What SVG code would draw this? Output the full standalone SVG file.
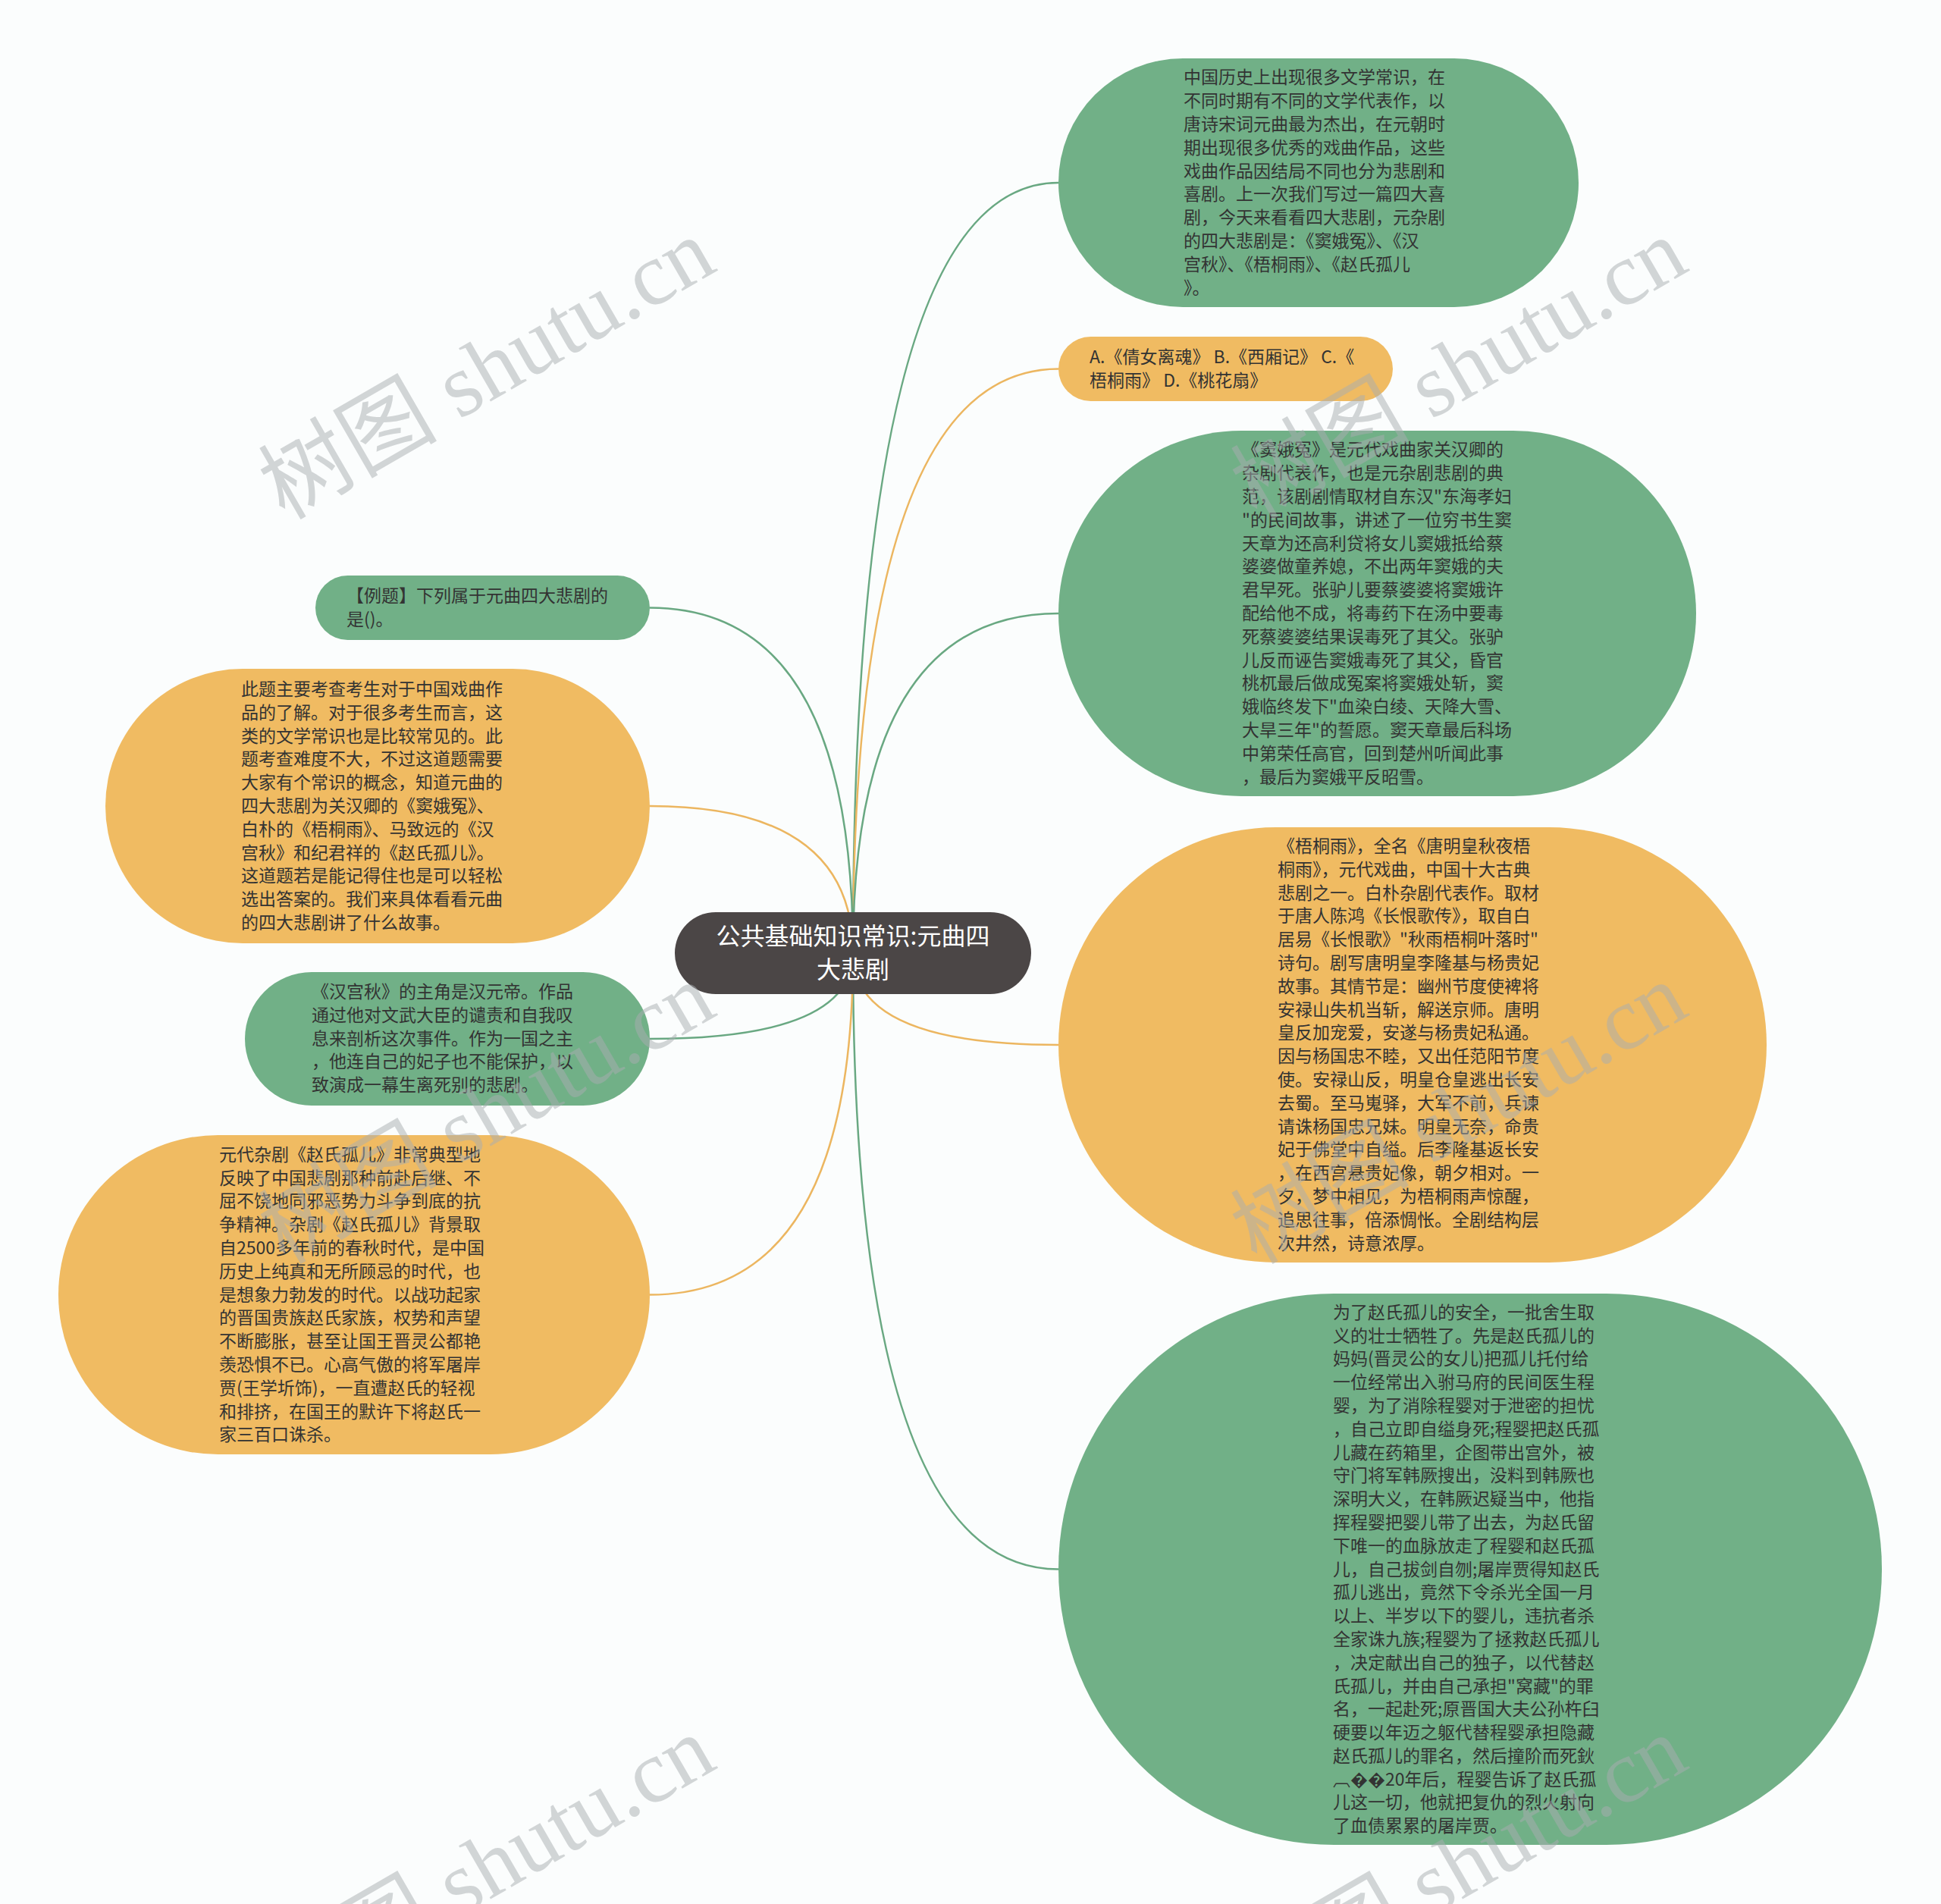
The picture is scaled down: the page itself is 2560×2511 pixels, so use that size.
<svg xmlns="http://www.w3.org/2000/svg" width="2560" height="2511" viewBox="0 0 2560 2511">
<style>
.bg{fill:#fbfdfd}
.g{fill:#71b087}
.o{fill:#f0bb62}
.c{fill:#4b4646}
.t{font-family:'Noto Sans CJK SC','Noto Sans',sans-serif;font-size:23px;fill:#333333}
.ct{font-family:'Noto Sans CJK SC','Noto Sans',sans-serif;font-size:32px;fill:#ffffff;text-anchor:middle}
.cl{fill:none;stroke-width:2.5}
.lg{stroke:#69a882}
.lo{stroke:#ecb660}
.wm{font-family:'Liberation Serif','Noto Sans CJK SC',serif;font-size:118px;fill:#a9aeb1;opacity:.5;text-anchor:middle}
</style>
<rect class="bg" x="0" y="0" width="2560" height="2511"/>
<g id="connectors">
<path class="cl lg" d="M1125 1257 Q1125 241 1396 241"/>
<path class="cl lo" d="M1125 1257 Q1125 486.5 1396 486.5"/>
<path class="cl lg" d="M1125 1257 Q1125 809 1396 809"/>
<path class="cl lo" d="M1125 1257 Q1125 1378 1396 1378"/>
<path class="cl lg" d="M1125 1257 Q1125 2069.5 1396 2069.5"/>
<path class="cl lg" d="M1125 1257 Q1125 801.5 857 801.5"/>
<path class="cl lo" d="M1125 1257 Q1125 1063 857 1063"/>
<path class="cl lg" d="M1125 1257 Q1125 1370 857 1370"/>
<path class="cl lo" d="M1125 1257 Q1125 1707.5 857 1707.5"/>
</g>
<g id="center">
<rect class="c" x="890" y="1203" width="470" height="108" rx="54"/>
<text class="ct"><tspan x="1125" y="1246">公共基础知识常识:元曲四</tspan><tspan x="1125" y="1290">大悲剧</tspan></text>
</g>
<g id="n1">
<rect class="g" x="1396" y="77" width="686" height="328" rx="164"/>
<text class="t" y="110.4"><tspan x="1561">中国历史上出现很多文学常识，在</tspan><tspan x="1561" dy="30.8">不同时期有不同的文学代表作，以</tspan><tspan x="1561" dy="30.8">唐诗宋词元曲最为杰出，在元朝时</tspan><tspan x="1561" dy="30.8">期出现很多优秀的戏曲作品，这些</tspan><tspan x="1561" dy="30.8">戏曲作品因结局不同也分为悲剧和</tspan><tspan x="1561" dy="30.8">喜剧。上一次我们写过一篇四大喜</tspan><tspan x="1561" dy="30.8">剧，今天来看看四大悲剧，元杂剧</tspan><tspan x="1561" dy="30.8">的四大悲剧是：《窦娥冤》、《汉</tspan><tspan x="1561" dy="30.8">宫秋》、《梧桐雨》、《赵氏孤儿</tspan><tspan x="1561" dy="30.8">》。</tspan></text>
</g>
<g id="n2">
<rect class="o" x="1396" y="444" width="441" height="85" rx="42.5"/>
<text class="t" y="479"><tspan x="1437">A.《倩女离魂》 B.《西厢记》 C.《</tspan><tspan x="1437" dy="30.8">梧桐雨》 D.《桃花扇》</tspan></text>
</g>
<g id="n3">
<rect class="g" x="1396" y="568" width="841" height="482" rx="241"/>
<text class="t" y="601.4"><tspan x="1638">《窦娥冤》是元代戏曲家关汉卿的</tspan><tspan x="1638" dy="30.8">杂剧代表作，也是元杂剧悲剧的典</tspan><tspan x="1638" dy="30.8">范，该剧剧情取材自东汉"东海孝妇</tspan><tspan x="1638" dy="30.8">"的民间故事，讲述了一位穷书生窦</tspan><tspan x="1638" dy="30.8">天章为还高利贷将女儿窦娥抵给蔡</tspan><tspan x="1638" dy="30.8">婆婆做童养媳，不出两年窦娥的夫</tspan><tspan x="1638" dy="30.8">君早死。张驴儿要蔡婆婆将窦娥许</tspan><tspan x="1638" dy="30.8">配给他不成，将毒药下在汤中要毒</tspan><tspan x="1638" dy="30.8">死蔡婆婆结果误毒死了其父。张驴</tspan><tspan x="1638" dy="30.8">儿反而诬告窦娥毒死了其父，昏官</tspan><tspan x="1638" dy="30.8">桃杌最后做成冤案将窦娥处斩，窦</tspan><tspan x="1638" dy="30.8">娥临终发下"血染白绫、天降大雪、</tspan><tspan x="1638" dy="30.8">大旱三年"的誓愿。窦天章最后科场</tspan><tspan x="1638" dy="30.8">中第荣任高官，回到楚州听闻此事</tspan><tspan x="1638" dy="30.8">，最后为窦娥平反昭雪。</tspan></text>
</g>
<g id="n4">
<rect class="o" x="1396" y="1091" width="934" height="574" rx="287"/>
<text class="t" y="1124"><tspan x="1685">《梧桐雨》，全名《唐明皇秋夜梧</tspan><tspan x="1685" dy="30.8">桐雨》，元代戏曲，中国十大古典</tspan><tspan x="1685" dy="30.8">悲剧之一。白朴杂剧代表作。取材</tspan><tspan x="1685" dy="30.8">于唐人陈鸿《长恨歌传》，取自白</tspan><tspan x="1685" dy="30.8">居易《长恨歌》"秋雨梧桐叶落时"</tspan><tspan x="1685" dy="30.8">诗句。剧写唐明皇李隆基与杨贵妃</tspan><tspan x="1685" dy="30.8">故事。其情节是：幽州节度使裨将</tspan><tspan x="1685" dy="30.8">安禄山失机当斩，解送京师。唐明</tspan><tspan x="1685" dy="30.8">皇反加宠爱，安遂与杨贵妃私通。</tspan><tspan x="1685" dy="30.8">因与杨国忠不睦，又出任范阳节度</tspan><tspan x="1685" dy="30.8">使。安禄山反，明皇仓皇逃出长安</tspan><tspan x="1685" dy="30.8">去蜀。至马嵬驿，大军不前，兵谏</tspan><tspan x="1685" dy="30.8">请诛杨国忠兄妹。明皇无奈，命贵</tspan><tspan x="1685" dy="30.8">妃于佛堂中自缢。后李隆基返长安</tspan><tspan x="1685" dy="30.8">，在西宫悬贵妃像，朝夕相对。一</tspan><tspan x="1685" dy="30.8">夕，梦中相见，为梧桐雨声惊醒，</tspan><tspan x="1685" dy="30.8">追思往事，倍添惆怅。全剧结构层</tspan><tspan x="1685" dy="30.8">次井然，诗意浓厚。</tspan></text>
</g>
<g id="n5">
<rect class="g" x="1396" y="1706" width="1086" height="727" rx="363.5"/>
<text class="t" y="1738.7"><tspan x="1758">为了赵氏孤儿的安全，一批舍生取</tspan><tspan x="1758" dy="30.8">义的壮士牺牲了。先是赵氏孤儿的</tspan><tspan x="1758" dy="30.8">妈妈(晋灵公的女儿)把孤儿托付给</tspan><tspan x="1758" dy="30.8">一位经常出入驸马府的民间医生程</tspan><tspan x="1758" dy="30.8">婴，为了消除程婴对于泄密的担忧</tspan><tspan x="1758" dy="30.8">，自己立即自缢身死;程婴把赵氏孤</tspan><tspan x="1758" dy="30.8">儿藏在药箱里，企图带出宫外，被</tspan><tspan x="1758" dy="30.8">守门将军韩厥搜出，没料到韩厥也</tspan><tspan x="1758" dy="30.8">深明大义，在韩厥迟疑当中，他指</tspan><tspan x="1758" dy="30.8">挥程婴把婴儿带了出去，为赵氏留</tspan><tspan x="1758" dy="30.8">下唯一的血脉放走了程婴和赵氏孤</tspan><tspan x="1758" dy="30.8">儿，自己拔剑自刎;屠岸贾得知赵氏</tspan><tspan x="1758" dy="30.8">孤儿逃出，竟然下令杀光全国一月</tspan><tspan x="1758" dy="30.8">以上、半岁以下的婴儿，违抗者杀</tspan><tspan x="1758" dy="30.8">全家诛九族;程婴为了拯救赵氏孤儿</tspan><tspan x="1758" dy="30.8">，决定献出自己的独子，以代替赵</tspan><tspan x="1758" dy="30.8">氏孤儿，并由自己承担"窝藏"的罪</tspan><tspan x="1758" dy="30.8">名，一起赴死;原晋国大夫公孙杵臼</tspan><tspan x="1758" dy="30.8">硬要以年迈之躯代替程婴承担隐藏</tspan><tspan x="1758" dy="30.8">赵氏孤儿的罪名，然后撞阶而死鈥</tspan><tspan x="1758" dy="30.8">︹��20年后，程婴告诉了赵氏孤</tspan><tspan x="1758" dy="30.8">儿这一切，他就把复仇的烈火射向</tspan><tspan x="1758" dy="30.8">了血债累累的屠岸贾。</tspan></text>
</g>
<g id="n6">
<rect class="g" x="416" y="759" width="441" height="85" rx="42.5"/>
<text class="t" y="794"><tspan x="457">【例题】下列属于元曲四大悲剧的</tspan><tspan x="457" dy="30.8">是()。</tspan></text>
</g>
<g id="n7">
<rect class="o" x="139" y="882" width="718" height="362" rx="181"/>
<text class="t" y="917"><tspan x="318">此题主要考查考生对于中国戏曲作</tspan><tspan x="318" dy="30.8">品的了解。对于很多考生而言，这</tspan><tspan x="318" dy="30.8">类的文学常识也是比较常见的。此</tspan><tspan x="318" dy="30.8">题考查难度不大，不过这道题需要</tspan><tspan x="318" dy="30.8">大家有个常识的概念，知道元曲的</tspan><tspan x="318" dy="30.8">四大悲剧为关汉卿的《窦娥冤》、</tspan><tspan x="318" dy="30.8">白朴的《梧桐雨》、马致远的《汉</tspan><tspan x="318" dy="30.8">宫秋》和纪君祥的《赵氏孤儿》。</tspan><tspan x="318" dy="30.8">这道题若是能记得住也是可以轻松</tspan><tspan x="318" dy="30.8">选出答案的。我们来具体看看元曲</tspan><tspan x="318" dy="30.8">的四大悲剧讲了什么故事。</tspan></text>
</g>
<g id="n8">
<rect class="g" x="323" y="1282" width="534" height="176" rx="88"/>
<text class="t" y="1316"><tspan x="411">《汉宫秋》的主角是汉元帝。作品</tspan><tspan x="411" dy="30.8">通过他对文武大臣的谴责和自我叹</tspan><tspan x="411" dy="30.8">息来剖析这次事件。作为一国之主</tspan><tspan x="411" dy="30.8">，他连自己的妃子也不能保护，以</tspan><tspan x="411" dy="30.8">致演成一幕生离死别的悲剧。</tspan></text>
</g>
<g id="n9">
<rect class="o" x="77" y="1497" width="780" height="421" rx="210.5"/>
<text class="t" y="1530.7"><tspan x="289">元代杂剧《赵氏孤儿》非常典型地</tspan><tspan x="289" dy="30.8">反映了中国悲剧那种前赴后继、不</tspan><tspan x="289" dy="30.8">屈不饶地同邪恶势力斗争到底的抗</tspan><tspan x="289" dy="30.8">争精神。杂剧《赵氏孤儿》背景取</tspan><tspan x="289" dy="30.8">自2500多年前的春秋时代，是中国</tspan><tspan x="289" dy="30.8">历史上纯真和无所顾忌的时代，也</tspan><tspan x="289" dy="30.8">是想象力勃发的时代。以战功起家</tspan><tspan x="289" dy="30.8">的晋国贵族赵氏家族，权势和声望</tspan><tspan x="289" dy="30.8">不断膨胀，甚至让国王晋灵公都艳</tspan><tspan x="289" dy="30.8">羡恐惧不已。心高气傲的将军屠岸</tspan><tspan x="289" dy="30.8">贾(王学圻饰)，一直遭赵氏的轻视</tspan><tspan x="289" dy="30.8">和排挤，在国王的默许下将赵氏一</tspan><tspan x="289" dy="30.8">家三百口诛杀。</tspan></text>
</g>
<g id="watermarks">
<text class="wm" x="662" y="521" transform="rotate(-30 662 521)">树图 shutu.cn</text>
<text class="wm" x="1944" y="521" transform="rotate(-30 1944 521)">树图 shutu.cn</text>
<text class="wm" x="662" y="1503" transform="rotate(-30 662 1503)">树图 shutu.cn</text>
<text class="wm" x="1944" y="1503" transform="rotate(-30 1944 1503)">树图 shutu.cn</text>
<text class="wm" x="662" y="2496" transform="rotate(-30 662 2496)">树图 shutu.cn</text>
<text class="wm" x="1944" y="2496" transform="rotate(-30 1944 2496)">树图 shutu.cn</text>
</g>
</svg>
